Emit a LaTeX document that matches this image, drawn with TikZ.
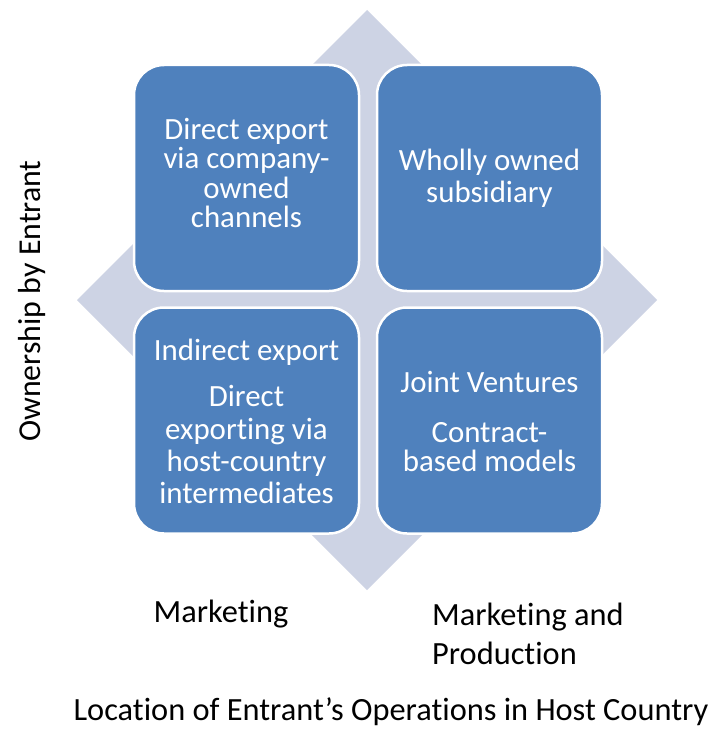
\documentclass[tikz,border=0pt]{standalone}
\usepackage{fontspec}
\setmainfont{Carlito}[Ligatures=NoCommon]
\definecolor{boxblue}{HTML}{4F81BD}
\definecolor{diamondgray}{HTML}{CDD3E4}
\begin{document}
\begin{tikzpicture}[x=1bp,y=-1bp,
  quad/.style={draw=white, line width=2.5bp, fill=boxblue, rounded corners=30bp,
    minimum width=225bp, minimum height=226bp, inner sep=0pt},
  qtext/.style={inner sep=0pt, align=center, text=white},
  lbl/.style={inner sep=0pt, text=black, font=\fontsize{32.5}{39}\selectfont}]
\useasboundingbox (0,0) rectangle (712,751);
\fill[white] (0,0) rectangle (712,751);
% diamond
\coordinate (dT) at (367,10);
\coordinate (dR) at (657,300);
\coordinate (dB) at (367,590);
\coordinate (dL) at (77,300);
\fill[diamondgray] (dT) -- (dR) -- (dB) -- (dL) -- cycle;
% quadrants
\node[quad] (tl) at (246.5,178) {};
\node[quad] (tr) at (489.5,178) {};
\node[quad] (bl) at (246.5,420.5) {};
\node[quad] (br) at (489.5,420.5) {};
\node[qtext, font=\fontsize{31}{29.5}\selectfont, yshift=5bp] (tlt) at (tl.center) {Direct export\\via company-\\owned\\channels};
\node[qtext, font=\fontsize{31}{32}\selectfont] (trt) at (tr.center) {Wholly owned\\subsidiary};
\node[qtext, font=\fontsize{31}{32.5}\selectfont, yshift=-1bp] (blt) at (bl.center) {Indirect export\\[14bp]Direct\\exporting via\\host-country\\intermediates};
\node[qtext, font=\fontsize{31}{30}\selectfont, yshift=-1bp] (brt) at (br.center) {Joint Ventures\\[20bp]Contract-\\based models};
% labels
\node[lbl, rotate=90, font=\fontsize{32}{38}\selectfont] (own) at (32,301) {Ownership by Entrant};
\node[lbl] (mk) at (221,614) {Marketing};
\node[lbl, anchor=west, align=left] (mp) at (432,634) {Marketing and\\Production};
\node[lbl] (loc) at (391,712) {Location of Entrant’s Operations in Host Country};
\end{tikzpicture}
\end{document}
